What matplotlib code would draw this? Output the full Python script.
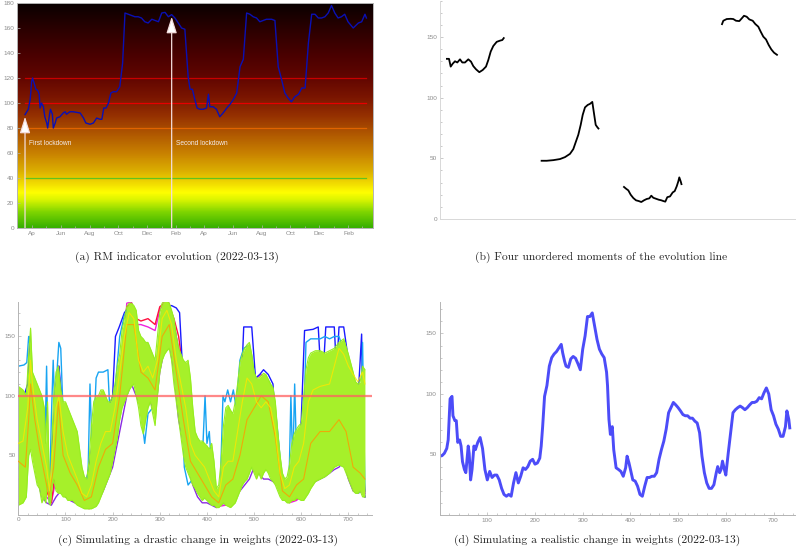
import numpy as np
import matplotlib
matplotlib.use("Agg")
import matplotlib.pyplot as plt
import matplotlib.dates as mdates
from matplotlib.colors import LinearSegmentedColormap
from matplotlib.ticker import MultipleLocator

W, H = 796, 552
TICK_FONT = ["Liberation Sans", "DejaVu Sans"]
CAP_FONT = ["cmr10", "DejaVu Serif"]
plt.rcParams["axes.unicode_minus"] = False

# ---------------- (a) RM indicator evolution ----------------
a_start = "2020-03-17"
a_days = [0, 7, 11, 14, 16, 20, 23, 27, 30, 32, 35, 39, 42, 46, 48, 52, 54, 58, 60, 64, 67,
          74, 81, 85, 88, 95, 102, 117, 124, 129, 138, 145, 152, 159, 163, 167, 172, 177, 182,
          187, 194, 201, 207, 212, 219, 226, 233, 240, 247, 254, 261, 269, 276, 283, 290, 297,
          304, 311, 318, 325, 332, 339, 346, 350, 355, 360, 365, 371, 378, 385, 389, 392, 399,
          406, 413, 420, 428, 435, 442, 449, 456, 463, 470, 477, 484, 491, 498, 505, 512, 523,
          530, 537, 544, 551, 558, 565, 572, 580, 587, 594, 601, 608, 615, 622, 629, 636, 643,
          650, 657, 664, 671, 678, 685, 696, 707, 714, 721, 724]
a_values = [90.7, 95, 103, 117, 120, 115, 111, 110, 107, 96, 100, 97, 89, 84, 80, 91, 95, 91, 80,
            84, 88, 89, 92, 93, 91, 93, 93, 92, 88, 84, 83, 84, 88, 87, 87, 96, 96, 100, 108,
            109, 109, 113, 132, 172, 171, 170, 169, 169, 168, 165, 164, 167, 166, 165, 172,
            172.5, 169, 170.7, 168, 164, 160, 159, 121, 111, 111, 103, 96, 95, 95, 96, 107, 97,
            97, 95, 89, 92, 96, 99, 103, 108, 129, 135, 172, 171, 169, 168, 165, 166, 167, 167,
            166, 129, 119, 108, 104, 101, 105, 107, 112, 112, 148, 171, 171, 168, 168, 169, 172,
            178, 172, 168, 169, 171, 165, 160, 164, 165, 171, 168]
a_levels = [120, 100, 80, 40]
a_level_colors = ["#c80000", "#e60000", "#e06400", "#62c21e"]
a_lockdowns = ["2020-03-17", "2021-01-22"]
a_lock_tops = [89, 169]
a_lock_labels = ["First lockdown", "Second lockdown"]
a_tick_dates = ["2020-04-01", "2020-06-01", "2020-08-01", "2020-10-01", "2020-12-01",
                "2021-02-01", "2021-04-01", "2021-06-01", "2021-08-01", "2021-10-01",
                "2021-12-01", "2022-02-01"]
a_tick_labels = ["Ap", "Jun", "Aug", "Oct", "Dec", "Feb", "Ap", "Jun", "Aug", "Oct", "Dec", "Feb"]
grad_stops = [0, 12, 22, 28, 36, 45, 60, 75, 90, 105, 120, 140, 160, 180]
grad_colors = ["#38b000", "#7cd400", "#d8f400", "#ffff00", "#f0d800", "#dcb000", "#c88000",
               "#b05800", "#953000", "#7a1500", "#620600", "#480000", "#2a0000", "#0a0000"]

# ---------------- (b) four unordered moments ----------------
b_seg1_t = [6, 9, 10.7, 12.7, 15, 17.3, 20, 22.3, 25, 28.3, 31, 33.3, 36, 39.3, 42.7, 46, 48.3,
            50.7, 53.3, 56.7, 60, 62.3, 64.3]
b_seg1_v = [132, 132, 125.6, 128, 130, 129, 131.6, 129, 129, 131.6, 129.7, 126, 123.4, 121,
            122.8, 125.6, 131, 138, 142.6, 146, 147, 147.5, 149.7]
b_seg2_t = [100.7, 106.7, 113.3, 120, 125, 130, 133.3, 136, 138.3, 140.7, 142.7, 145, 147.7,
            150, 152.3, 154, 155.7, 157.3, 159]
b_seg2_v = [48, 48, 48.5, 49.4, 51, 53.7, 57.6, 64, 69.4, 77.6, 85.8, 92, 94, 94.9, 96.5, 87,
            77.6, 75.7, 74]
b_seg3_t = [183.3, 186, 188.3, 190.7, 193.3, 196, 198.7, 201.3, 204, 206.7, 209.3, 211.3, 213.3,
            216, 218.7, 221.3, 223.3, 225.3, 227.3, 230, 232.7, 234.7, 236.7, 238.3, 239.3,
            240.7, 241.7]
b_seg3_v = [26.9, 25, 23.6, 20, 17.3, 15.4, 14.8, 14, 15.4, 16.5, 17, 19.2, 17.5, 16.7, 15.9,
            15.4, 14.8, 14.3, 18, 18.6, 21.9, 23, 26.9, 31, 34.3, 31, 28]
b_seg4_t = [281.7, 283.3, 286.7, 290.7, 293.3, 296, 299.3, 301.7, 304, 306.7, 309.3, 312.7,
            315.3, 318.3, 320.7, 323.3, 326, 328.7, 331.3, 334, 337.7]
b_seg4_v = [159.9, 163.4, 164.8, 165, 164.8, 163.4, 163.1, 165.3, 167.5, 166.7, 164.5, 163.4,
            160.7, 158.5, 154.4, 150.3, 148, 143.4, 139.8, 137.1, 134.9]

# ---------------- (c) drastic change in weights ----------------
c_env_x = [0, 10, 17, 22, 26, 30, 35, 40, 45, 50, 55, 58, 62, 65, 68, 72, 75, 80, 85, 90, 95,
           100, 105, 110, 115, 120, 125, 130, 135, 140, 145, 150, 155, 160, 165, 170, 175, 180,
           185, 190, 195, 200, 205, 210, 215, 220, 225, 230, 235, 240, 245, 250, 255, 260, 265,
           270, 275, 280, 285, 290, 295, 300, 305, 310, 315, 320, 325, 330, 335, 340, 345, 350,
           355, 360, 365, 370, 375, 380, 385, 390, 395, 400, 405, 410, 415, 420, 425, 430, 435,
           440, 445, 450, 455, 460, 465, 470, 475, 480, 485, 490, 495, 500, 505, 510, 515, 520,
           525, 530, 535, 540, 545, 550, 555, 560, 565, 570, 575, 580, 585, 590, 595, 600, 605,
           610, 615, 620, 625, 630, 640, 650, 660, 670, 680, 690, 700, 710, 715, 720, 725, 730,
           735]
c_env_hi = [108, 105, 100, 135, 157, 120, 115, 110, 105, 100, 90, 60, 95, 40, 20, 70, 100, 120,
            125, 105, 95, 95, 90, 85, 80, 75, 70, 55, 40, 32, 30, 45, 75, 95, 100, 100, 105, 105,
            100, 95, 95, 100, 110, 125, 135, 155, 165, 175, 178, 178, 176, 172, 155, 150, 148,
            145, 145, 140, 135, 130, 150, 170, 178, 180, 180, 178, 172, 165, 150, 140, 135, 130,
            128, 130, 115, 90, 70, 65, 62, 62, 60, 58, 55, 60, 45, 22, 25, 45, 75, 90, 92, 88,
            85, 95, 110, 128, 135, 140, 143, 145, 135, 120, 115, 115, 117, 119, 118, 114, 110,
            107, 95, 70, 50, 35, 30, 32, 42, 60, 68, 72, 75, 77, 100, 122, 132, 136, 137, 138,
            138, 136, 138, 140, 145, 148, 135, 120, 112, 110, 112, 125, 122]
c_env_lo = [8, 10, 15, 50, 55, 45, 35, 25, 22, 10, 15, 10, 30, 10, 8, 25, 30, 20, 18, 18, 15, 15,
            12, 12, 12, 10, 8, 7, 6, 5, 5, 5, 5, 6, 7, 10, 15, 20, 25, 30, 35, 45, 55, 65, 80,
            90, 95, 100, 105, 108, 110, 100, 90, 75, 68, 80, 90, 95, 85, 75, 100, 120, 130, 135,
            138, 140, 130, 110, 95, 80, 65, 50, 40, 35, 30, 25, 22, 18, 15, 12, 14, 12, 10, 8, 8,
            6, 6, 8, 10, 8, 7, 6, 8, 10, 15, 20, 25, 28, 30, 35, 40, 35, 30, 35, 30, 35, 38, 35,
            30, 28, 25, 20, 15, 12, 12, 10, 10, 12, 12, 14, 13, 12, 12, 15, 18, 22, 25, 28, 30,
            32, 35, 40, 42, 40, 30, 20, 18, 18, 20, 15, 15]
c_blue = [(0, 100), (12, 100), (20, 110), (25, 150), (30, 110), (40, 60), (50, 35), (60, 90),
          (66, 20), (72, 60), (80, 110), (86, 125), (92, 100), (100, 70), (110, 60), (120, 50),
          (130, 30), (140, 20), (150, 40), (160, 70), (170, 80), (180, 90), (190, 88), (200, 100),
          (206, 150), (214, 158), (225, 170), (235, 175), (245, 170), (255, 120), (265, 105),
          (275, 115), (285, 110), (295, 130), (305, 165), (315, 175), (325, 176), (335, 174),
          (342, 170), (350, 110), (360, 60), (370, 40), (385, 25), (395, 20), (405, 15), (415, 10),
          (425, 10), (435, 15), (445, 20), (455, 40), (465, 75), (472, 100), (478, 158),
          (495, 158), (503, 115), (512, 118), (520, 122), (530, 118), (540, 110), (548, 60),
          (558, 25), (568, 12), (580, 15), (590, 20), (600, 80), (607, 155), (625, 156),
          (636, 158), (640, 130), (648, 130), (652, 158), (670, 158), (675, 120), (680, 158),
          (690, 158), (700, 130), (710, 100), (720, 95), (728, 152), (732, 30), (735, 15)]
c_sky = [(0, 125), (12, 126), (18, 128), (22, 150), (26, 140), (30, 100), (38, 60), (45, 45),
         (50, 90), (55, 30), (60, 125), (63, 50), (66, 10), (70, 80), (74, 130), (78, 80),
         (82, 120), (86, 145), (90, 140), (95, 85), (100, 65), (110, 55), (120, 45), (130, 30),
         (140, 20), (148, 35), (152, 110), (156, 60), (160, 70), (165, 115), (170, 120),
         (180, 120), (190, 122), (195, 80), (200, 95), (205, 105), (215, 150), (225, 168),
         (235, 175), (245, 150), (255, 110), (262, 80), (268, 60), (275, 85), (285, 90),
         (295, 120), (305, 160), (315, 175), (325, 170), (335, 150), (345, 110), (352, 40),
         (360, 25), (370, 30), (380, 40), (390, 45), (396, 100), (400, 60), (405, 70), (412, 25),
         (420, 10), (428, 20), (434, 100), (438, 95), (444, 105), (450, 95), (456, 105),
         (462, 90), (470, 130), (478, 140), (486, 142), (494, 135), (502, 115), (512, 110),
         (522, 115), (532, 112), (542, 100), (550, 70), (558, 35), (566, 18), (574, 25),
         (578, 100), (582, 40), (586, 110), (590, 50), (594, 60), (598, 70), (603, 45),
         (610, 145), (620, 148), (630, 148), (640, 148), (650, 150), (660, 148), (670, 150),
         (680, 150), (688, 140), (696, 110), (704, 60), (712, 22), (720, 18), (726, 20),
         (730, 145), (735, 20)]
c_red = [(0, 10), (10, 12), (20, 60), (26, 100), (30, 90), (40, 60), (50, 40), (60, 20), (70, 10),
         (80, 40), (86, 125), (90, 80), (100, 30), (110, 25), (120, 20), (130, 15), (140, 8),
         (150, 5), (160, 10), (170, 30), (180, 60), (190, 70), (200, 75), (210, 90), (220, 120),
         (230, 175), (240, 178), (250, 165), (260, 163), (275, 165), (290, 160), (300, 175),
         (310, 178), (320, 175), (330, 165), (340, 150), (350, 120), (360, 125), (365, 70),
         (375, 40), (385, 30), (395, 20), (405, 12), (415, 10), (425, 8), (435, 10), (445, 10),
         (455, 40), (465, 60), (475, 70), (485, 80), (495, 100), (505, 110), (515, 115),
         (525, 110), (535, 100), (545, 60), (555, 30), (565, 15), (575, 12), (585, 12), (595, 15),
         (605, 20), (615, 35), (625, 50), (640, 55), (660, 55), (680, 60), (690, 55), (700, 40),
         (710, 25), (720, 22), (730, 45), (735, 20)]
c_magenta = [(0, 30), (10, 28), (20, 55), (26, 90), (30, 80), (40, 50), (50, 30), (60, 15),
             (70, 10), (80, 30), (86, 115), (92, 70), (100, 25), (115, 20), (130, 12), (145, 8),
             (160, 12), (175, 40), (190, 60), (205, 70), (220, 110), (230, 178), (240, 179),
             (250, 160), (260, 160), (275, 158), (290, 155), (300, 172), (310, 180), (320, 178),
             (330, 160), (340, 140), (350, 100), (365, 55), (380, 25), (395, 15), (410, 10),
             (425, 7), (440, 8), (455, 30), (470, 60), (485, 90), (495, 110), (505, 115),
             (515, 118), (525, 112), (540, 95), (550, 50), (560, 20), (575, 10), (590, 12),
             (605, 18), (620, 45), (640, 120), (655, 125), (670, 120), (685, 100), (700, 45),
             (715, 22), (730, 40), (735, 18)]
c_purple = [(0, 40), (10, 30), (20, 50), (26, 60), (30, 55), (40, 30), (50, 15), (60, 10), (70, 8),
            (80, 15), (90, 20), (100, 15), (110, 12), (120, 10), (130, 8), (140, 6), (150, 6),
            (160, 8), (170, 12), (180, 20), (190, 30), (200, 40), (210, 60), (220, 80), (230, 100),
            (240, 110), (250, 100), (260, 90), (270, 90), (280, 95), (290, 85), (300, 120),
            (310, 140), (320, 145), (330, 120), (340, 80), (350, 60), (360, 40), (370, 25),
            (380, 15), (390, 10), (400, 10), (410, 8), (420, 6), (430, 8), (440, 8), (450, 10),
            (460, 15), (470, 20), (480, 25), (490, 30), (500, 40), (510, 35), (520, 30), (530, 30),
            (540, 28), (550, 25), (560, 15), (570, 12), (580, 12), (590, 14), (600, 15), (610, 20),
            (620, 25), (630, 28), (640, 30), (650, 32), (660, 35), (670, 38), (680, 40), (690, 45),
            (700, 30), (710, 20), (720, 18), (730, 20), (735, 15)]
c_yellow = [(0, 60), (10, 62), (20, 90), (26, 130), (30, 110), (40, 80), (50, 60), (60, 40),
            (66, 20), (72, 50), (80, 90), (86, 100), (95, 70), (105, 50), (115, 40), (125, 30),
            (135, 18), (145, 15), (155, 25), (165, 45), (175, 60), (185, 70), (195, 70), (205, 90),
            (215, 120), (225, 150), (235, 170), (245, 165), (255, 130), (265, 120), (275, 125),
            (285, 115), (295, 130), (305, 165), (315, 172), (325, 160), (335, 130), (345, 110),
            (355, 90), (365, 60), (375, 50), (385, 45), (395, 40), (405, 30), (415, 20), (425, 15),
            (435, 40), (445, 45), (455, 45), (465, 70), (475, 95), (485, 115), (495, 110),
            (505, 95), (515, 90), (525, 95), (535, 90), (545, 70), (555, 35), (565, 22), (575, 25),
            (585, 40), (595, 45), (605, 60), (615, 95), (625, 105), (640, 108), (660, 110),
            (680, 140), (690, 135), (700, 125), (710, 118), (720, 112), (730, 120), (735, 110)]
c_orange = [(0, 45), (15, 40), (22, 80), (26, 110), (35, 80), (45, 55), (55, 35), (65, 15),
            (75, 40), (85, 95), (95, 50), (110, 35), (125, 25), (140, 12), (155, 15), (170, 40),
            (185, 55), (200, 60), (215, 100), (230, 160), (245, 160), (260, 120), (275, 115),
            (290, 105), (305, 150), (320, 160), (335, 120), (350, 80), (365, 45), (380, 35),
            (395, 25), (410, 15), (425, 10), (440, 25), (455, 30), (470, 50), (485, 80),
            (500, 90), (515, 100), (530, 95), (545, 65), (560, 20), (575, 15), (590, 25),
            (605, 30), (620, 60), (640, 70), (660, 70), (680, 80), (695, 70), (710, 40),
            (725, 35), (735, 30)]
c_threshold = 100

# ---------------- (d) realistic change in weights ----------------
d_x = [0, 5, 10, 15, 18, 22, 26, 28, 32, 35, 38, 42, 45, 48, 52, 55, 60, 62, 65, 68, 72, 75,
       80, 85, 90, 95, 100, 105, 110, 115, 120, 125, 130, 135, 140, 145, 150, 155, 160, 165,
       170, 175, 180, 185, 190, 195, 200, 205, 210, 213, 216, 220, 225, 230, 235, 240, 245,
       250, 255, 258, 262, 265, 270, 275, 280, 285, 290, 295, 300, 305, 310, 315, 320, 325,
       330, 335, 340, 345, 350, 352, 355, 358, 360, 362, 365, 370, 375, 380, 385, 390, 393,
       397, 400, 405, 410, 415, 420, 425, 430, 435, 440, 445, 450, 455, 460, 465, 470, 475,
       480, 485, 490, 495, 500, 505, 510, 515, 520, 525, 530, 535, 540, 545, 550, 555, 560,
       565, 570, 575, 580, 583, 587, 590, 593, 597, 600, 605, 610, 615, 620, 625, 630, 635,
       640, 645, 650, 655, 660, 665, 670, 675, 680, 685, 690, 695, 700, 705, 710, 715, 720,
       725, 728, 732, 734]
d_y = [48.6, 49, 51, 55, 62, 96, 98, 82, 78, 78, 60, 62, 57, 44, 37.6, 35, 57, 51, 29, 37.6,
       57, 54, 60, 64, 55, 37.6, 29, 36, 31, 33, 33, 29, 22, 17, 15.5, 17, 15.5, 26.5, 35,
       26.5, 32, 39, 37.6, 40, 44.5, 46, 42, 43, 47, 57, 73, 98, 107, 123, 130, 133, 135, 138,
       141, 134, 127, 123, 122, 129, 131, 129.5, 125, 120, 137, 148, 164, 164, 167, 156, 145,
       137, 133, 130, 118, 107, 79, 66.6, 71, 73, 54, 39, 37.6, 36, 32, 39, 48.6, 43, 37.6, 29,
       28, 23.8, 17, 15.5, 23.8, 31, 31, 32, 32, 35, 46, 54, 61, 71, 84.5, 88.7, 93, 91, 88.7,
       86, 83, 82, 82, 80, 80, 77.6, 76, 68, 48.6, 35, 26.5, 22, 22, 25, 35, 40, 35, 37.6,
       44.5, 37.6, 33, 51, 68, 84.5, 87, 88.7, 90, 88.7, 87, 88.7, 91, 93, 93, 94, 97, 96,
       101, 105, 100, 87, 82, 75, 71, 65, 65, 73, 86, 79, 72]

captions = ["(a) RM indicator evolution (2022-03-13)",
            "(b) Four unordered moments of the evolution line",
            "(c) Simulating a drastic change in weights (2022-03-13)",
            "(d) Simulating a realistic change in weights (2022-03-13)"]

fig = plt.figure(figsize=(W / 100, H / 100), dpi=100)


def box(l, t, r, b):
    return [l / W, 1 - b / H, (r - l) / W, (b - t) / H]


def style_axes(ax, frame=False):
    for side in ["top", "right", "left", "bottom"]:
        ax.spines[side].set_color("#b4b4b4")
        ax.spines[side].set_linewidth(0.7)
        if not frame and side in ("top", "right"):
            ax.spines[side].set_visible(False)
    ax.tick_params(which="both", colors="#b4b4b4", labelcolor="#8c8c8c", labelsize=4.6,
                   direction="in", width=0.5, pad=2)
    ax.tick_params(which="major", length=2.5)
    ax.tick_params(which="minor", length=1.3)
    for lab in ax.get_xticklabels() + ax.get_yticklabels():
        lab.set_fontfamily(TICK_FONT)


# ---- panel (a)
ax = fig.add_axes(box(17, 3, 373, 228))
t0 = np.datetime64(a_start)
a_dates = t0 + np.array(a_days).astype("timedelta64[D]")
xa0 = mdates.date2num(t0 - np.timedelta64(17, "D"))
xa1 = mdates.date2num(t0 + np.timedelta64(738, "D"))
cmap = LinearSegmentedColormap.from_list(
    "rm", [(s / 180, c) for s, c in zip(grad_stops, grad_colors)])
ax.imshow(np.linspace(0, 180, 400).reshape(-1, 1), cmap=cmap, vmin=0, vmax=180,
          extent=[xa0, xa1, 0, 180], origin="lower", aspect="auto", zorder=0)
for lvl, col in zip(a_levels, a_level_colors):
    ax.plot([a_dates[0], a_dates[-1]], [lvl, lvl], color=col, lw=0.9, zorder=1)
for d, top, lab in zip(a_lockdowns, a_lock_tops, a_lock_labels):
    dd = np.datetime64(d)
    ax.annotate("", xy=(dd, top), xytext=(dd, 0),
                arrowprops=dict(arrowstyle="-|>,head_length=1.0,head_width=0.32",
                                facecolor="white", edgecolor="#f3dcdc", lw=0.9,
                                mutation_scale=10, shrinkA=0, shrinkB=0), zorder=2)
    ax.annotate(lab, xy=(dd, 68), xytext=(3, 0), textcoords="offset points",
                color="#f4ecec", fontsize=4.8, va="center", family=TICK_FONT, zorder=3)
ax.plot(a_dates, a_values, color="#0a10b4", lw=1.0, zorder=3)
ax.set_xlim(xa0, xa1)
ax.set_ylim(0, 180)
ax.set_yticks(range(0, 181, 20))
ax.set_xticks(mdates.date2num(np.array(a_tick_dates, dtype="datetime64[D]")))
ax.set_xticklabels(a_tick_labels)
ax.xaxis.set_minor_locator(mdates.MonthLocator())
style_axes(ax, frame=True)

# ---- panel (b)
ax = fig.add_axes(box(440, 0.6, 795, 219))
for t, v in [(b_seg1_t, b_seg1_v), (b_seg2_t, b_seg2_v), (b_seg3_t, b_seg3_v),
             (b_seg4_t, b_seg4_v)]:
    ax.plot(t, v, color="black", lw=1.3, solid_capstyle="butt")
ax.set_xlim(0, 355)
ax.set_ylim(0, 180)
ax.set_xticks([])
ax.set_yticks([0, 50, 100, 150])
ax.yaxis.set_minor_locator(MultipleLocator(10))
style_axes(ax)
ax.spines["left"].set_color("#d8d8d8")
ax.spines["bottom"].set_color("#d8d8d8")

# ---- panel (c)
ax = fig.add_axes(box(18.3, 302, 372, 514.7))
for pts, col in [(c_purple, "#8a2be2"), (c_magenta, "#ee22dd"), (c_red, "#ff1040"),
                 (c_blue, "#1a1aff"), (c_sky, "#18a4f2")]:
    xs, ys = zip(*pts)
    ax.plot(xs, ys, color=col, lw=1.0, zorder=1)
ax.fill_between(c_env_x, c_env_lo, c_env_hi, color="#a6f02a", lw=0, zorder=2)
ax.plot(c_env_x, c_env_hi, color="#96ee20", lw=0.8, zorder=2)
ax.plot(c_env_x, c_env_lo, color="#96ee20", lw=0.8, zorder=2)
for pts, col in [(c_orange, "#ff9a00"), (c_yellow, "#ffe600")]:
    xs, ys = zip(*pts)
    ax.plot(xs, ys, color=col, lw=0.8, alpha=0.8, zorder=3)
ax.axhline(c_threshold, xmin=0, xmax=1, color="#ff6060", alpha=0.75, lw=1.6, zorder=4)
ax.set_xlim(0, 750)
ax.set_ylim(0, 179)
ax.set_xticks(range(0, 701, 100))
ax.set_yticks([50, 100, 150])
ax.xaxis.set_minor_locator(MultipleLocator(20))
ax.yaxis.set_minor_locator(MultipleLocator(10))
style_axes(ax)

# ---- panel (d)
ax = fig.add_axes(box(439.6, 302, 795, 515))
ax.plot(d_x, d_y, color="#4c4cf8", lw=2.1, solid_joinstyle="round")
ax.set_xlim(0, 745)
ax.set_ylim(0, 176)
ax.set_xticks(range(100, 701, 100))
ax.set_yticks([50, 100, 150])
ax.xaxis.set_minor_locator(MultipleLocator(20))
ax.yaxis.set_minor_locator(MultipleLocator(10))
style_axes(ax)

# captions
for (cx, cy), txt in zip([(177, 257), (601, 257), (198, 540), (597, 540)], captions):
    fig.text(cx / W, 1 - cy / H, txt, ha="center", va="center", fontsize=8.3,
             family=CAP_FONT, color="#222222")

fig.savefig("out.png", dpi=100)
